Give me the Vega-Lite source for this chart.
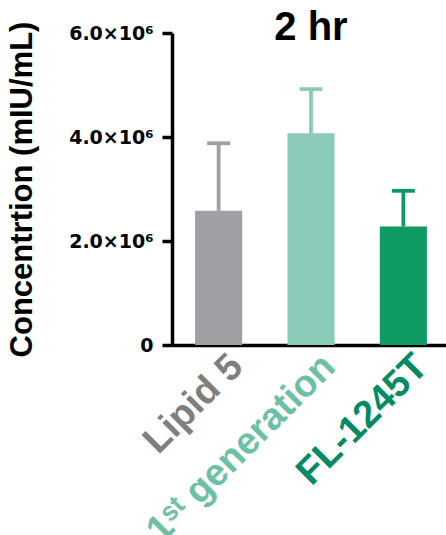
{
  "$schema": "https://vega.github.io/schema/vega-lite/v6.json",
  "autosize": {"type": "none"},
  "padding": {"left": 172, "top": 33, "right": 0, "bottom": 190},
  "width": 278,
  "height": 312,
  "background": "white",
  "title": {
    "text": "2 hr",
    "font": "Liberation Sans",
    "fontSize": 40,
    "fontWeight": "bold",
    "color": "black",
    "anchor": "middle",
    "frame": "group",
    "baseline": "alphabetic",
    "offset": 0,
    "dy": 59
  },
  "config": {
    "view": {"stroke": null},
    "font": "Liberation Sans"
  },
  "data": {
    "values": [
      {"group": "Lipid 5", "value": 2580000, "upper": 3880000},
      {"group": "1ˢᵗ generation", "value": 4070000, "upper": 4920000},
      {"group": "FL-1245T", "value": 2280000, "upper": 2965000}
    ]
  },
  "encoding": {
    "x": {
      "field": "group",
      "type": "nominal",
      "sort": null,
      "scale": {"paddingInner": 0.49, "paddingOuter": 0.25},
      "axis": {
        "title": null,
        "labelAngle": -45,
        "labelFont": "Liberation Sans",
        "labelFontSize": 38,
        "labelFontWeight": "bold",
        "labelColor": {
          "condition": [
            {"test": "datum.value == 'Lipid 5'", "value": "#7f7f7f"},
            {"test": "datum.value == 'FL-1245T'", "value": "#008c62"}
          ],
          "value": "#6cc0a6"
        },
        "labelOffset": 5,
        "labelPadding": 2,
        "ticks": false,
        "domainColor": "black",
        "domainWidth": 3.5,
        "labelOverlap": false,
        "labelLimit": 400
      }
    },
    "color": {
      "field": "group",
      "type": "nominal",
      "scale": {
        "domain": ["Lipid 5", "1ˢᵗ generation", "FL-1245T"],
        "range": ["#a09fa4", "#8bc9b8", "#0e9a63"]
      },
      "legend": null
    }
  },
  "layer": [
    {
      "mark": {"type": "rule", "strokeWidth": 3.8},
      "encoding": {
        "y": {"field": "value", "type": "quantitative"},
        "y2": {"field": "upper"}
      }
    },
    {
      "mark": {"type": "tick", "size": 23, "thickness": 3.8, "opacity": 1},
      "encoding": {
        "y": {"field": "upper", "type": "quantitative"}
      }
    },
    {
      "mark": {"type": "bar"},
      "encoding": {
        "y": {
          "field": "value",
          "type": "quantitative",
          "scale": {"domain": [0, 6000000], "nice": false},
          "axis": {
            "title": "Concentrtion (mIU/mL)",
            "titleFont": "Liberation Sans",
            "titleFontSize": 31,
            "titleFontWeight": "bold",
            "titleColor": "black",
            "titlePadding": 30,
            "values": [0, 2000000, 4000000, 6000000],
            "labelExpr": "datum.value == 0 ? '0' : format(datum.value / 1000000, '.1f') + '×10⁶'",
            "labelFont": "DejaVu Sans",
            "labelFontSize": 19,
            "labelFontWeight": "bold",
            "labelColor": "black",
            "labelPadding": 9,
            "tickSize": 10,
            "tickWidth": 3.5,
            "tickColor": "black",
            "domainColor": "black",
            "domainWidth": 3.5,
            "grid": false
          }
        }
      }
    }
  ]
}
